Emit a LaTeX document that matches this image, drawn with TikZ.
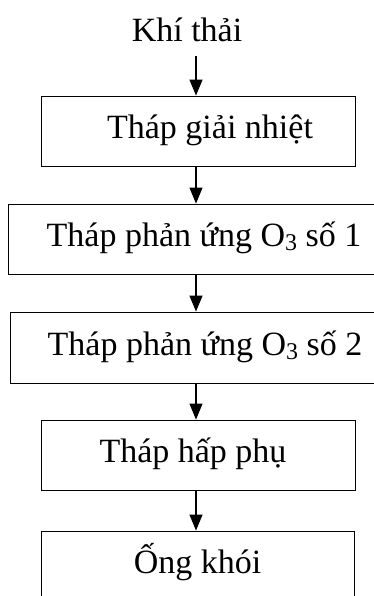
\documentclass[tikz,border=0pt]{standalone}
\usepackage{fontspec}
\setmainfont{Liberation Serif}
\usetikzlibrary{arrows.meta}
\newcommand{\mysub}[1]{\raisebox{-4pt}{\fontsize{24}{24}\selectfont #1}}
\begin{document}
\begin{tikzpicture}[x=1pt,y=1pt,
  box/.style={draw, line width=0.9pt, minimum height=70pt, inner sep=0pt,
    text height=22pt, text depth=7pt, font=\fontsize{34}{40}\selectfont},
  lbl/.style={inner sep=0pt, font=\fontsize{34}{40}\selectfont},
  arr/.style={line width=1.2pt, -{Triangle[width=13pt,length=16pt]}}]
\useasboundingbox (0,0) rectangle (374,-596);
\clip (0,0) rectangle (374,-596);
\node[lbl, anchor=base] (src) at (187,-42) {Khí thải};
\node[box, minimum width=314pt] (b1) at (198,-131) {\hspace*{24pt}Tháp giải nhiệt};
\node[box, minimum width=392pt] (b2) at (204,-239) {Tháp phản ứng O\mysub{3} số 1};
\node[box, minimum width=390pt, minimum height=71pt] (b3) at (205,-347.5) {Tháp phản ứng O\mysub{3} số 2};
\node[box, minimum width=314pt] (b4) at (198,-455) {Tháp hấp phụ\hspace*{10pt}};
\node[box, minimum width=313pt] (b5) at (197.5,-566) {Ống khói};
\coordinate (a0) at (196,-56);
\draw[arr] (a0) -- (b1.north -| a0);
\draw[arr] (b1.south -| a0) -- (b2.north -| a0);
\draw[arr] (b2.south -| a0) -- (b3.north -| a0);
\draw[arr] (b3.south -| a0) -- (b4.north -| a0);
\draw[arr] (b4.south -| a0) -- (b5.north -| a0);
\end{tikzpicture}
\end{document}
